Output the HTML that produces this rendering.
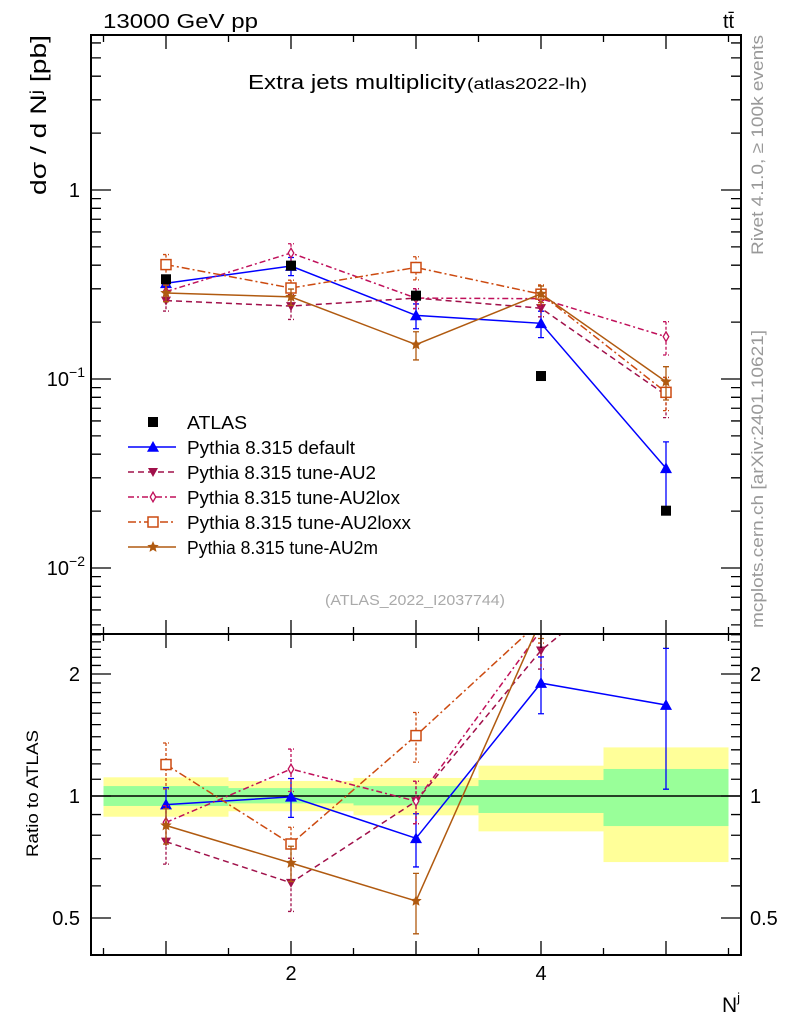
<!DOCTYPE html>
<html><head><meta charset="utf-8"><style>
body{margin:0;background:#fff;}
svg{display:block;font-family:"Liberation Sans",Arial,sans-serif;}
</style></head><body>
<svg id="chart" width="786" height="1024" viewBox="0 0 786 1024" xmlns="http://www.w3.org/2000/svg">
<defs>
<clipPath id="clipMain"><rect x="91" y="35" width="650" height="599"/></clipPath>
<clipPath id="clipRatio"><rect x="91" y="634" width="650" height="321"/></clipPath>
</defs>
<g id="bands"></g>
<g id="marks"></g>
<g id="axes"></g>
<text x="103" y="28" font-size="20" textLength="155" lengthAdjust="spacingAndGlyphs">13000 GeV pp</text>
<text x="723" y="28" font-size="20">tt̄</text>
<text x="248" y="89" font-size="20" textLength="218" lengthAdjust="spacingAndGlyphs">Extra jets multiplicity</text>
<text x="467" y="89" font-size="16" textLength="120" lengthAdjust="spacingAndGlyphs">(atlas2022-lh)</text>
<text transform="translate(46,195) rotate(-90)" font-size="22" textLength="160" lengthAdjust="spacingAndGlyphs">dσ / d Nʲ [pb]</text>
<text transform="translate(38,857) rotate(-90)" font-size="17" textLength="127" lengthAdjust="spacingAndGlyphs">Ratio to ATLAS</text>
<text x="722" y="1012" font-size="21">N<tspan font-size="13" dy="-10">j</tspan></text>
<text transform="translate(763,255) rotate(-90)" font-size="17" fill="#999" textLength="220" lengthAdjust="spacingAndGlyphs">Rivet 4.1.0, ≥ 100k events</text>
<text transform="translate(763,628) rotate(-90)" font-size="17" fill="#999" textLength="298" lengthAdjust="spacingAndGlyphs">mcplots.cern.ch [arXiv:2401.10621]</text>
<text x="415" y="605" font-size="15" fill="#aaa" text-anchor="middle" textLength="180" lengthAdjust="spacingAndGlyphs">(ATLAS_2022_I2037744)</text>
<g id="legend"></g>
</svg>
<script>
// ---- data ----
const categories = [1, 2, 3, 4, 5];
const atlasValues = [0.337, 0.398, 0.276, 0.1037, 0.0201];
const bandStatHi = [1.058, 1.046, 1.058, 1.095, 1.166];
const bandStatLo = [0.945, 0.959, 0.948, 0.908, 0.843];
const bandTotHi = [1.112, 1.089, 1.108, 1.188, 1.318];
const bandTotLo = [0.889, 0.917, 0.896, 0.818, 0.687];
const defaultValues = [0.321, 0.396, 0.217, 0.197, 0.0337];
const defaultErr = [0.1, 0.11, 0.15, 0.16, 0.38];
const au2Values = [0.260, 0.243, 0.268, 0.237, 0.0822];
const au2Err = [0.12, 0.15, 0.12, 0.1, 0.24];
const au2loxValues = [0.290, 0.464, 0.268, 0.266, 0.1675];
const au2loxErr = [0.1, 0.12, 0.12, 0.1, 0.2];
const au2loxxValues = [0.403, 0.303, 0.389, 0.281, 0.085];
const au2loxxErr = [0.13, 0.1, 0.14, 0.12, 0.2];
const au2mValues = [0.285, 0.272, 0.152, 0.282, 0.0968];
const au2mErr = [0.1, 0.1, 0.17, 0.1, 0.2];
const yTickLabels = ["1", "10", "10"];
const ratioTickLabels = ["0.5", "1", "2"];
const xTickLabels = ["2", "4"];

// ---- axes functions ----
const NS = "http://www.w3.org/2000/svg";
const X0 = 91, X1 = 741;
const xs = n => 103.5 + (n - 0.5) * 125;
const ym = v => 190 - Math.log10(v) * 189;
const yr = r => 796 - Math.log2(r) * 122;
function el(tag, attrs, parent) {
  const e = document.createElementNS(NS, tag);
  for (const k in attrs) e.setAttribute(k, attrs[k]);
  parent.appendChild(e);
  return e;
}
const bands = document.getElementById('bands');
const marks = document.getElementById('marks');
const axes = document.getElementById('axes');
const legend = document.getElementById('legend');

categories.forEach((c, i) => {
  const a = el('rect', {x: xs(c - 0.5), y: yr(bandTotHi[i]), width: 125, height: yr(bandTotLo[i]) - yr(bandTotHi[i]), fill: '#ffff99'}, bands);
  
  
  const b = el('rect', {x: xs(c - 0.5), y: yr(bandStatHi[i]), width: 125, height: yr(bandStatLo[i]) - yr(bandStatHi[i]), fill: '#99ff99'}, bands);
  
  
});
const one = el('line', {x1: X0, x2: X1, y1: yr(1), y2: yr(1), stroke: '#000', 'stroke-width': 1.5}, bands);



function marker(type, x, y, color, parent, s) {
  let m;
  if (type === 'square') m = el('rect', {x: x - s, y: y - s, width: 2 * s, height: 2 * s, fill: color}, parent);
  else if (type === 'osquare') m = el('rect', {x: x - s, y: y - s, width: 2 * s, height: 2 * s, fill: '#fff', stroke: color, 'stroke-width': 1.5}, parent);
  else if (type === 'tri') m = el('polygon', {points: `${x},${y - s} ${x - s},${y + s * 0.8} ${x + s},${y + s * 0.8}`, fill: color}, parent);
  else if (type === 'dtri') m = el('polygon', {points: `${x},${y + s} ${x - s},${y - s * 0.8} ${x + s},${y - s * 0.8}`, fill: color}, parent);
  else if (type === 'diamond') m = el('polygon', {points: `${x},${y - s * 1.2} ${x + s * 0.7},${y} ${x},${y + s * 1.2} ${x - s * 0.7},${y}`, fill: '#fff', stroke: color, 'stroke-width': 1.3}, parent);
  else {
    let p = [];
    for (let k = 0; k < 10; k++) { const r = k % 2 ? s * 0.45 : s; const a = -Math.PI / 2 + k * Math.PI / 5; p.push((x + r * Math.cos(a)).toFixed(1) + ',' + (y + r * Math.sin(a)).toFixed(1)); }
    m = el('polygon', {points: p.join(' '), fill: color}, parent);
  }
  return m;
}

const series = [
  {name: 'Pythia 8.315 default', key: 'default', vals: defaultValues, err: defaultErr, color: '#0000ff', dash: '', mk: 'tri', s: 6},
  {name: 'Pythia 8.315 tune-AU2', key: 'au2', vals: au2Values, err: au2Err, color: '#a0104a', dash: '6,4', mk: 'dtri', s: 5},
  {name: 'Pythia 8.315 tune-AU2lox', key: 'au2lox', vals: au2loxValues, err: au2loxErr, color: '#c0105a', dash: '6,3,2,3', mk: 'diamond', s: 4},
  {name: 'Pythia 8.315 tune-AU2loxx', key: 'au2loxx', vals: au2loxxValues, err: au2loxxErr, color: '#cc4a10', dash: '8,3,2,3', mk: 'osquare', s: 5},
  {name: 'Pythia 8.315 tune-AU2m', key: 'au2m', vals: au2mValues, err: au2mErr, color: '#b05a10', dash: '', mk: 'star', s: 6}
];

['main', 'ratio'].forEach(panel => {
  const g = el('g', {'clip-path': panel === 'main' ? 'url(#clipMain)' : 'url(#clipRatio)'}, marks);
  
  
  const Y = panel === 'main' ? (v, i) => ym(v) : (v, i) => yr(v / atlasValues[i]);
  series.forEach(sr => {
    const pts = categories.map((c, i) => xs(c) + ',' + Y(sr.vals[i], i).toFixed(1)).join(' ');
    const line = el('polyline', {points: pts, fill: 'none', stroke: sr.color, 'stroke-width': 1.5, 'stroke-dasharray': sr.dash}, g);
    
    
    categories.forEach((c, i) => {
      const v = sr.vals[i], e = sr.err[i];
      const yh = Y(v * (1 + e), i), yl = Y(v * (1 - e), i), x = xs(c);
      const eb = el('path', {d: `M${x},${yh}V${yl}M${x - 3},${yh}H${x + 3}M${x - 3},${yl}H${x + 3}`, stroke: sr.color, 'stroke-width': 1.3, 'stroke-dasharray': sr.dash ? '3,2' : '', fill: 'none'}, g);
      
      
      const m = marker(sr.mk, x, Y(v, i), sr.color, g, sr.s);
      
      
    });
  });
  if (panel === 'main') {
    categories.forEach((c, i) => {
      const m = marker('square', xs(c), ym(atlasValues[i]), '#000', g, 5);
      
      
    });
  }
});

[[35, 634], [634, 955]].forEach(([t, b]) => {
  const f = el('rect', {x: X0, y: t, width: X1 - X0, height: b - t, fill: 'none', stroke: '#000', 'stroke-width': 2}, axes);
  
  
  for (let n = 0.5; n <= 5.51; n += 0.5) {
    const L = Number.isInteger(n) ? 14 : 7;
    const tk = el('path', {d: `M${xs(n)},${t}v${L}M${xs(n)},${b}v${-L}`, stroke: '#000', 'stroke-width': 1.3}, axes);
    
    
  }
});
function ytick(y, L) {
  const tk = el('path', {d: `M${X0},${y}h${L}M${X1},${y}h${-L}`, stroke: '#000', 'stroke-width': 1.3}, axes);
  
  
}
for (let d = -3; d <= 0; d++) for (let k = 1; k <= 9; k++) {
  const y = ym(k * Math.pow(10, d));
  if (y > 35 && y < 634) ytick(y, k === 1 ? 20 : 10);
}
for (let r = 0.4; r <= 2.55; r += 0.1) {
  const rr = Math.round(r * 10) / 10;
  const y = yr(rr);
  if (y > 634 && y < 955) ytick(y, (rr === 0.5 || rr === 1 || rr === 2) ? 20 : 10);
}
const mainTickVals = [1, 0.1, 0.01];
mainTickVals.forEach((v, i) => {
  const t = el('text', {x: 80, y: ym(v) + 7, 'font-size': 20, 'text-anchor': 'end'}, axes);
  
  
  t.textContent = yTickLabels[i];
  if (i > 0) { const s = el('tspan', {'font-size': 14, dy: -9}, t); s.textContent = '−' + i; t.setAttribute('x', 85); }
});
const ratioVals = [0.5, 1, 2];
ratioVals.forEach((v, i) => {
  const t = el('text', {x: 80, y: yr(v) + 7, 'font-size': 20, 'text-anchor': 'end'}, axes);
  
  
  t.textContent = ratioTickLabels[i];
  const t2 = el('text', {x: 750, y: yr(v) + 7, 'font-size': 20}, axes);
  
  
  t2.textContent = ratioTickLabels[i];
});
[2, 4].forEach((n, i) => {
  const t = el('text', {x: xs(n), y: 980, 'font-size': 20, 'text-anchor': 'middle'}, axes);
  
  
  t.textContent = xTickLabels[i];
});

const ent = [{name: 'ATLAS', key: 'atlas', color: '#000', dash: null, mk: 'square', s: 5}].concat(series);
const legendWidths = [60, 168, 189, 213, 224, 191];
ent.forEach((sr, i) => {
  const y = 422 + i * 25;
  const g = el('g', {}, legend);
  
  
  if (sr.dash !== null) el('line', {x1: 128, x2: 176, y1: y, y2: y, stroke: sr.color, 'stroke-width': 1.5, 'stroke-dasharray': sr.dash}, g);
  marker(sr.mk, 153, y, sr.color, g, sr.s);
  const t = el('text', {x: 187, y: y + 7, 'font-size': 18, textLength: legendWidths[i], lengthAdjust: 'spacingAndGlyphs'}, g);
  t.textContent = sr.name;
});
</script>
</body></html>
